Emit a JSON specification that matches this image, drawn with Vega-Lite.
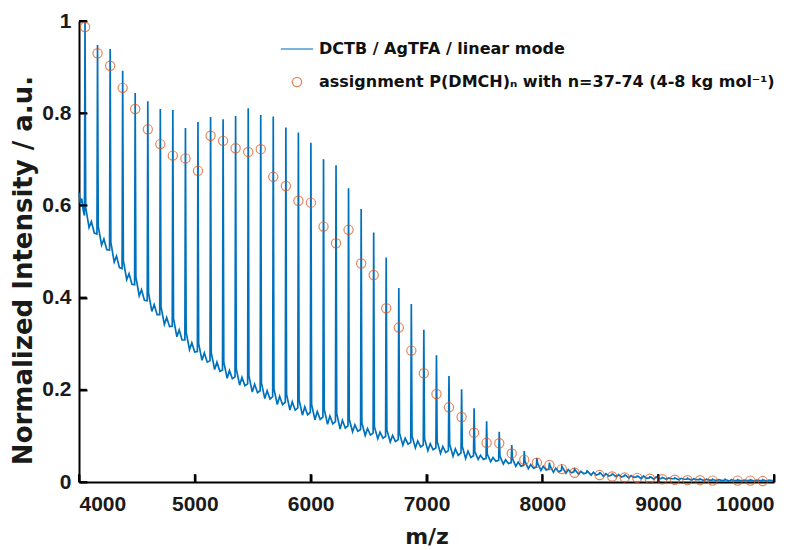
{
  "$schema": "https://vega.github.io/schema/vega-lite/v6.json",
  "width": 695,
  "height": 461,
  "autosize": {"type": "none"},
  "padding": {"left": 79, "top": 21, "right": 33, "bottom": 68},
  "background": "white",
  "config": {
    "view": {"stroke": null},
    "axis": {
      "grid": false,
      "domainColor": "#000000",
      "domainWidth": 2,
      "ticks": true,
      "tickSize": -8,
      "tickWidth": 2,
      "tickColor": "#000000",
      "labelFont": "Liberation Sans",
      "labelFontWeight": "bold",
      "labelFontSize": 21,
      "labelColor": "#1a1a1a",
      "titleFont": "DejaVu Sans",
      "titleFontWeight": "bold",
      "titleColor": "#1a1a1a"
    }
  },
  "datasets": {
    "spec": [
      {"m":4000,"i":0.628},{"m":4012,"i":0.605},{"m":4024,"i":0.615},{"m":4036,"i":0.59},{"m":4047,"i":0.578},
      {"m":4052,"i":1.0},{"m":4058,"i":0.595},{"m":4087,"i":0.552},{"m":4107,"i":0.565},{"m":4132,"i":0.54},
      {"m":4155,"i":0.538},{"m":4160,"i":0.948},{"m":4166,"i":0.555},{"m":4195,"i":0.514},{"m":4215,"i":0.527},{"m":4240,"i":0.504},
      {"m":4264,"i":0.503},{"m":4269,"i":0.939},{"m":4275,"i":0.52},{"m":4304,"i":0.477},{"m":4324,"i":0.49},{"m":4349,"i":0.465},
      {"m":4372,"i":0.463},{"m":4377,"i":0.892},{"m":4383,"i":0.48},{"m":4412,"i":0.439},{"m":4432,"i":0.452},{"m":4457,"i":0.429},
      {"m":4480,"i":0.428},{"m":4485,"i":0.844},{"m":4491,"i":0.445},{"m":4520,"i":0.404},{"m":4540,"i":0.417},{"m":4565,"i":0.394},
      {"m":4589,"i":0.393},{"m":4594,"i":0.826},{"m":4600,"i":0.41},{"m":4629,"i":0.37},{"m":4649,"i":0.385},{"m":4674,"i":0.363},
      {"m":4697,"i":0.363},{"m":4702,"i":0.809},{"m":4708,"i":0.38},{"m":4737,"i":0.342},{"m":4757,"i":0.357},{"m":4782,"i":0.337},
      {"m":4805,"i":0.338},{"m":4810,"i":0.807},{"m":4816,"i":0.355},{"m":4845,"i":0.315},{"m":4865,"i":0.33},{"m":4890,"i":0.308},
      {"m":4914,"i":0.308},{"m":4919,"i":0.768},{"m":4925,"i":0.325},{"m":4954,"i":0.287},{"m":4974,"i":0.302},{"m":4999,"i":0.282},
      {"m":5022,"i":0.283},{"m":5027,"i":0.781},{"m":5033,"i":0.3},{"m":5062,"i":0.264},{"m":5082,"i":0.28},{"m":5107,"i":0.26},
      {"m":5131,"i":0.263},{"m":5136,"i":0.792},{"m":5142,"i":0.28},{"m":5171,"i":0.244},{"m":5191,"i":0.26},{"m":5216,"i":0.24},
      {"m":5239,"i":0.243},{"m":5244,"i":0.787},{"m":5250,"i":0.26},{"m":5279,"i":0.225},{"m":5299,"i":0.242},{"m":5324,"i":0.224},
      {"m":5347,"i":0.228},{"m":5352,"i":0.794},{"m":5358,"i":0.245},{"m":5387,"i":0.21},{"m":5407,"i":0.227},{"m":5432,"i":0.209},
      {"m":5456,"i":0.213},{"m":5461,"i":0.811},{"m":5467,"i":0.23},{"m":5496,"i":0.195},{"m":5516,"i":0.212},{"m":5541,"i":0.194},
      {"m":5564,"i":0.198},{"m":5569,"i":0.796},{"m":5575,"i":0.215},{"m":5604,"i":0.181},{"m":5624,"i":0.198},{"m":5649,"i":0.18},
      {"m":5672,"i":0.185},{"m":5677,"i":0.793},{"m":5683,"i":0.202},{"m":5712,"i":0.168},{"m":5732,"i":0.186},{"m":5757,"i":0.168},
      {"m":5781,"i":0.173},{"m":5786,"i":0.769},{"m":5792,"i":0.19},{"m":5821,"i":0.156},{"m":5841,"i":0.174},{"m":5866,"i":0.156},
      {"m":5889,"i":0.161},{"m":5894,"i":0.758},{"m":5900,"i":0.178},{"m":5929,"i":0.145},{"m":5949,"i":0.163},{"m":5974,"i":0.146},
      {"m":5997,"i":0.151},{"m":6002,"i":0.736},{"m":6008,"i":0.168},{"m":6037,"i":0.135},{"m":6057,"i":0.153},{"m":6082,"i":0.136},
      {"m":6106,"i":0.141},{"m":6111,"i":0.7},{"m":6117,"i":0.158},{"m":6146,"i":0.125},{"m":6166,"i":0.143},{"m":6191,"i":0.126},
      {"m":6214,"i":0.131},{"m":6219,"i":0.687},{"m":6225,"i":0.148},{"m":6254,"i":0.115},{"m":6274,"i":0.134},{"m":6299,"i":0.117},
      {"m":6322,"i":0.122},{"m":6327,"i":0.637},{"m":6333,"i":0.136},{"m":6362,"i":0.109},{"m":6382,"i":0.124},{"m":6407,"i":0.11},
      {"m":6431,"i":0.114},{"m":6436,"i":0.592},{"m":6442,"i":0.128},{"m":6471,"i":0.101},{"m":6491,"i":0.116},{"m":6516,"i":0.102},
      {"m":6539,"i":0.106},{"m":6544,"i":0.541},{"m":6550,"i":0.12},{"m":6579,"i":0.094},{"m":6599,"i":0.108},{"m":6624,"i":0.095},
      {"m":6647,"i":0.099},{"m":6652,"i":0.487},{"m":6658,"i":0.113},{"m":6687,"i":0.087},{"m":6707,"i":0.101},{"m":6732,"i":0.088},
      {"m":6756,"i":0.092},{"m":6761,"i":0.421},{"m":6767,"i":0.106},{"m":6796,"i":0.08},{"m":6816,"i":0.095},{"m":6841,"i":0.082},
      {"m":6864,"i":0.086},{"m":6869,"i":0.386},{"m":6875,"i":0.1},{"m":6904,"i":0.074},{"m":6924,"i":0.089},{"m":6949,"i":0.076},
      {"m":6972,"i":0.08},{"m":6977,"i":0.33},{"m":6983,"i":0.094},{"m":7012,"i":0.068},{"m":7032,"i":0.083},{"m":7057,"i":0.07},
      {"m":7081,"i":0.074},{"m":7086,"i":0.275},{"m":7092,"i":0.088},{"m":7121,"i":0.062},{"m":7141,"i":0.077},{"m":7166,"i":0.064},
      {"m":7189,"i":0.068},{"m":7194,"i":0.23},{"m":7200,"i":0.082},{"m":7229,"i":0.056},{"m":7249,"i":0.072},{"m":7274,"i":0.058},
      {"m":7298,"i":0.063},{"m":7303,"i":0.201},{"m":7309,"i":0.077},{"m":7338,"i":0.051},{"m":7358,"i":0.067},{"m":7383,"i":0.053},
      {"m":7406,"i":0.057},{"m":7411,"i":0.16},{"m":7417,"i":0.066},{"m":7446,"i":0.049},{"m":7466,"i":0.058},{"m":7491,"i":0.049},
      {"m":7514,"i":0.051},{"m":7519,"i":0.132},{"m":7525,"i":0.06},{"m":7554,"i":0.044},{"m":7574,"i":0.053},{"m":7599,"i":0.045},
      {"m":7623,"i":0.047},{"m":7628,"i":0.109},{"m":7634,"i":0.056},{"m":7663,"i":0.039},{"m":7683,"i":0.048},{"m":7708,"i":0.04},
      {"m":7731,"i":0.042},{"m":7736,"i":0.08},{"m":7742,"i":0.051},{"m":7771,"i":0.034},{"m":7791,"i":0.043},{"m":7816,"i":0.034},
      {"m":7839,"i":0.036},{"m":7844,"i":0.067},{"m":7850,"i":0.045},{"m":7879,"i":0.029},{"m":7899,"i":0.038},{"m":7924,"i":0.03},
      {"m":7948,"i":0.032},{"m":7953,"i":0.052},{"m":7959,"i":0.041},{"m":7988,"i":0.025},{"m":8008,"i":0.034},{"m":8033,"i":0.026},
      {"m":8056,"i":0.028},{"m":8061,"i":0.042},{"m":8067,"i":0.035},{"m":8096,"i":0.021},{"m":8116,"i":0.03},{"m":8141,"i":0.022},
      {"m":8164,"i":0.025},{"m":8169,"i":0.034},{"m":8175,"i":0.031},{"m":8204,"i":0.019},{"m":8224,"i":0.027},{"m":8249,"i":0.02},
      {"m":8273,"i":0.022},{"m":8278,"i":0.028},{"m":8284,"i":0.026},{"m":8313,"i":0.017},{"m":8333,"i":0.023},{"m":8358,"i":0.018},
      {"m":8381,"i":0.02},{"m":8386,"i":0.024},{"m":8392,"i":0.023},{"m":8421,"i":0.015},{"m":8441,"i":0.021},{"m":8466,"i":0.015},
      {"m":8489,"i":0.017},{"m":8494,"i":0.02},{"m":8500,"i":0.02},{"m":8529,"i":0.012},{"m":8549,"i":0.018},{"m":8574,"i":0.013},
      {"m":8598,"i":0.015},{"m":8603,"i":0.017},{"m":8609,"i":0.017},{"m":8638,"i":0.011},{"m":8658,"i":0.016},{"m":8683,"i":0.011},
      {"m":8706,"i":0.013},{"m":8711,"i":0.015},{"m":8717,"i":0.015},{"m":8746,"i":0.009},{"m":8766,"i":0.014},{"m":8791,"i":0.01},
      {"m":8814,"i":0.011},{"m":8819,"i":0.013},{"m":8825,"i":0.013},{"m":8854,"i":0.007},{"m":8874,"i":0.013},{"m":8899,"i":0.008},
      {"m":8923,"i":0.009},{"m":8928,"i":0.011},{"m":8934,"i":0.011},{"m":8963,"i":0.006},{"m":8983,"i":0.011},{"m":9008,"i":0.007},
      {"m":9031,"i":0.008},{"m":9036,"i":0.01},{"m":9042,"i":0.009},{"m":9071,"i":0.006},{"m":9091,"i":0.009},{"m":9116,"i":0.007},
      {"m":9139,"i":0.007},{"m":9144,"i":0.009},{"m":9150,"i":0.008},{"m":9179,"i":0.005},{"m":9199,"i":0.008},{"m":9224,"i":0.006},
      {"m":9248,"i":0.006},{"m":9253,"i":0.008},{"m":9259,"i":0.007},{"m":9288,"i":0.004},{"m":9308,"i":0.007},{"m":9333,"i":0.005},
      {"m":9356,"i":0.005},{"m":9361,"i":0.007},{"m":9367,"i":0.006},{"m":9396,"i":0.003},{"m":9416,"i":0.006},{"m":9441,"i":0.004},
      {"m":9465,"i":0.004},{"m":9470,"i":0.006},{"m":9476,"i":0.005},{"m":9505,"i":0.003},{"m":9525,"i":0.005},{"m":9550,"i":0.003},
      {"m":9573,"i":0.004},{"m":9578,"i":0.006},{"m":9584,"i":0.005},{"m":9613,"i":0.002},{"m":9633,"i":0.005},{"m":9658,"i":0.003},
      {"m":9681,"i":0.003},{"m":9686,"i":0.005},{"m":9692,"i":0.004},{"m":9721,"i":0.002},{"m":9741,"i":0.004},{"m":9766,"i":0.003},
      {"m":9790,"i":0.003},{"m":9795,"i":0.005},{"m":9801,"i":0.004},{"m":9830,"i":0.002},{"m":9850,"i":0.004},{"m":9875,"i":0.003},
      {"m":9898,"i":0.003},{"m":9903,"i":0.005},{"m":9909,"i":0.004},{"m":9938,"i":0.002},{"m":9958,"i":0.004},{"m":9983,"i":0.003},
      {"m":10000,"i":0.003}
    ],
    "asg": [
      {"m":4052,"i":0.987,"s":"asg"},{"m":4160,"i":0.93,"s":"asg"},{"m":4269,"i":0.903,"s":"asg"},{"m":4377,"i":0.855,"s":"asg"},
      {"m":4485,"i":0.809,"s":"asg"},{"m":4594,"i":0.765,"s":"asg"},{"m":4702,"i":0.733,"s":"asg"},{"m":4810,"i":0.708,"s":"asg"},
      {"m":4919,"i":0.702,"s":"asg"},{"m":5027,"i":0.675,"s":"asg"},{"m":5136,"i":0.751,"s":"asg"},{"m":5244,"i":0.74,"s":"asg"},
      {"m":5352,"i":0.724,"s":"asg"},{"m":5461,"i":0.716,"s":"asg"},{"m":5569,"i":0.722,"s":"asg"},{"m":5677,"i":0.662,"s":"asg"},
      {"m":5786,"i":0.642,"s":"asg"},{"m":5894,"i":0.61,"s":"asg"},{"m":6002,"i":0.606,"s":"asg"},{"m":6111,"i":0.554,"s":"asg"},
      {"m":6219,"i":0.518,"s":"asg"},{"m":6327,"i":0.547,"s":"asg"},{"m":6436,"i":0.474,"s":"asg"},{"m":6544,"i":0.449,"s":"asg"},
      {"m":6652,"i":0.377,"s":"asg"},{"m":6761,"i":0.335,"s":"asg"},{"m":6869,"i":0.285,"s":"asg"},{"m":6977,"i":0.236,"s":"asg"},
      {"m":7086,"i":0.191,"s":"asg"},{"m":7194,"i":0.162,"s":"asg"},{"m":7303,"i":0.141,"s":"asg"},{"m":7411,"i":0.107,"s":"asg"},
      {"m":7519,"i":0.085,"s":"asg"},{"m":7628,"i":0.084,"s":"asg"},{"m":7736,"i":0.062,"s":"asg"},{"m":7844,"i":0.048,"s":"asg"},
      {"m":7953,"i":0.042,"s":"asg"},{"m":8061,"i":0.037,"s":"asg"},{"m":8169,"i":0.028,"s":"asg"},{"m":8278,"i":0.02,"s":"asg"},
      {"m":8494,"i":0.015,"s":"asg"},{"m":8603,"i":0.012,"s":"asg"},{"m":8711,"i":0.01,"s":"asg"},{"m":8819,"i":0.009,"s":"asg"},
      {"m":8928,"i":0.007,"s":"asg"},{"m":9036,"i":0.006,"s":"asg"},{"m":9144,"i":0.005,"s":"asg"},{"m":9253,"i":0.004,"s":"asg"},
      {"m":9361,"i":0.004,"s":"asg"},{"m":9470,"i":0.003,"s":"asg"},{"m":9686,"i":0.003,"s":"asg"},{"m":9795,"i":0.003,"s":"asg"},
      {"m":9903,"i":0.002,"s":"asg"}
    ],
    "xticks": [{"t":4000},{"t":5000},{"t":6000},{"t":7000},{"t":8000},{"t":9000},{"t":10000}],
    "yticks": [{"v":0},{"v":0.2},{"v":0.4},{"v":0.6},{"v":0.8},{"v":1}]
  },
  "layer": [
    {
      "data": {"name": "spec"},
      "mark": {"type": "line", "color": "#0072BD", "strokeWidth": 1.7},
      "encoding": {
        "x": {
          "field": "m", "type": "quantitative",
          "scale": {"domain": [4000, 10000], "nice": false, "zero": false},
          "axis": {
            "values": [4000, 5000, 6000, 7000, 8000, 9000, 10000],
            "format": "d",
            "title": "m/z",
            "titleFontSize": 22,
            "labelPadding": 19,
            "titlePadding": 12
          }
        },
        "y": {
          "field": "i", "type": "quantitative",
          "scale": {"domain": [0, 1], "nice": false},
          "axis": {
            "values": [0, 0.2, 0.4, 0.6, 0.8, 1],
            "format": ".1~f",
            "title": "Normalized Intensity / a.u.",
            "titleFontSize": 26,
            "titleY": 249,
            "labelPadding": 16,
            "titlePadding": 5
          }
        }
      }
    },
    {
      "data": {"name": "xticks"},
      "mark": {"type": "rule", "color": "#000000", "strokeWidth": 2},
      "encoding": {
        "x": {"field": "t", "type": "quantitative"},
        "y": {"datum": 0},
        "y2": {"datum": 0.017}
      }
    },
    {
      "data": {"name": "yticks"},
      "mark": {"type": "rule", "color": "#000000", "strokeWidth": 2},
      "encoding": {
        "y": {"field": "v", "type": "quantitative"},
        "x": {"datum": 4000},
        "x2": {"datum": 4068}
      }
    },
    {
      "data": {"name": "asg"},
      "mark": {"type": "point", "filled": false, "size": 85, "strokeWidth": 1.2},
      "encoding": {
        "x": {"field": "m", "type": "quantitative"},
        "y": {"field": "i", "type": "quantitative"},
        "color": {
          "field": "s", "type": "nominal",
          "scale": {"domain": ["line", "asg"], "range": ["#0072BD", "#D95319"]},
          "legend": {
            "title": null,
            "orient": "none",
            "legendX": 210,
            "legendY": 20,
            "labelFont": "DejaVu Sans",
            "labelFontWeight": "bold",
            "labelFontSize": 16,
            "labelColor": "#111111",
            "labelLimit": 0,
            "labelOffset": 14,
            "rowPadding": 17,
            "symbolSize": 85,
            "symbolStrokeWidth": 1.3,
            "labelExpr": "datum.label == 'line' ? 'DCTB / AgTFA / linear mode' : 'assignment P(DMCH)ₙ with n=37-74 (4-8 kg mol⁻¹)'"
          }
        },
        "shape": {
          "field": "s", "type": "nominal",
          "scale": {"domain": ["line", "asg"], "range": ["M-3.5,0L3.5,0", "circle"]}
        }
      }
    }
  ]
}
